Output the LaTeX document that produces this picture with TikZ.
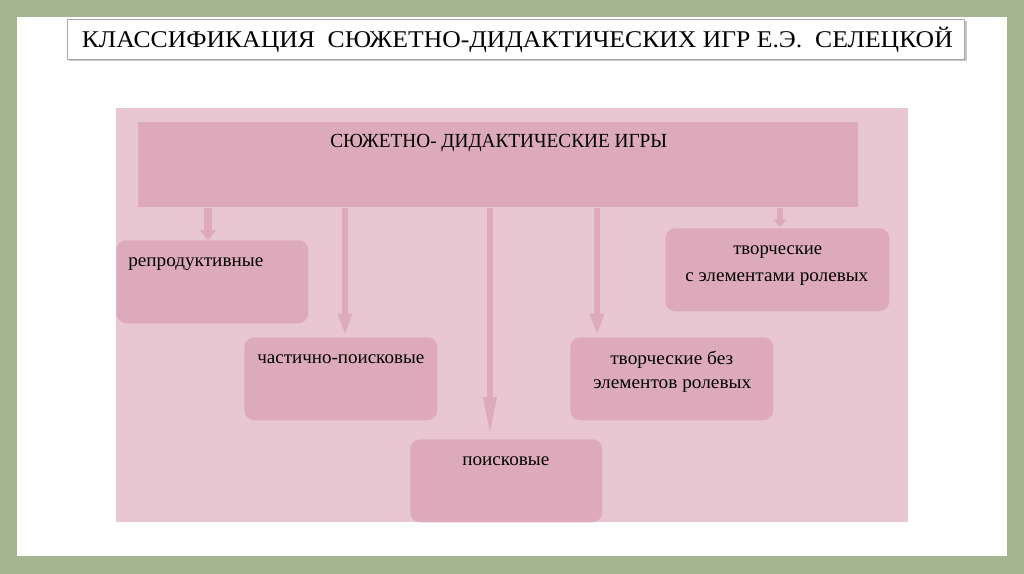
\documentclass[tikz,border=0pt]{standalone}
\usepackage{fontspec}
\setmainfont{Liberation Serif}
\usetikzlibrary{arrows.meta}
\definecolor{frame}{RGB}{164,181,145}
\definecolor{bgpink}{RGB}{232,199,211}
\definecolor{boxpink}{RGB}{220,170,187}
\newcommand{\fitw}[2]{\resizebox{#1}{\height}{#2}}
\begin{document}
\begin{tikzpicture}[x=0.75pt,y=-0.75pt,
  lbl/.style={inner sep=0pt, anchor=base west, font=\fontsize{14}{16}\selectfont},
  card/.style={fill=boxpink, rounded corners=7.5pt, inner sep=0pt, anchor=north west, minimum height=62.25pt},
  arr/.style={draw=boxpink, line width=4.5pt}]
% frame
\fill[frame] (0,0) rectangle (1024,574);
\fill[white] (17,17) rectangle (1007,556);
\useasboundingbox (0,0) rectangle (1024,574);
% title
\fill[gray!45] (69,21) rectangle (966.5,61);
\node[draw=gray!70, fill=white, line width=0.9pt, minimum width=672.75pt, minimum height=30pt, anchor=north west, inner sep=0pt] (titlebox) at (67,19) {};
\node[anchor=base west, inner sep=0pt, font=\fontsize{18}{20}\selectfont] (title) at (81.5,47.5) {\fitw{653.25pt}{КЛАССИФИКАЦИЯ\ \ СЮЖЕТНО-ДИДАКТИЧЕСКИХ ИГР Е.Э.\ \ СЕЛЕЦКОЙ}};
% pink panel
\fill[bgpink] (116,108) rectangle (908,522);
% header
\node[fill=boxpink, anchor=north west, minimum width=540pt, minimum height=63.75pt, inner sep=0pt] (header) at (138,122) {};
\node[anchor=base west, inner sep=0pt, font=\fontsize{15}{18}\selectfont] (htext) at (330,147) {\fitw{252.75pt}{СЮЖЕТНО- ДИДАКТИЧЕСКИЕ ИГРЫ}};
% boxes
\node[card, minimum width=144pt] (repr) at (116,240) {};
\node[card, minimum width=144.75pt] (chast) at (244,337) {};
\node[card, minimum width=144pt] (poisk) at (410,439) {};
\node[card, minimum width=152.25pt] (tvbez) at (570,337) {};
\node[card, minimum width=168pt] (tvs) at (665,228) {};
% labels
\node[lbl] (l1) at (128,266) {\fitw{101.25pt}{репродуктивные}};
\node[lbl] (l2) at (257,363) {\fitw{125.25pt}{частично-поисковые}};
\node[lbl] (l3) at (462,465) {\fitw{65.25pt}{поисковые}};
\node[lbl] (l4a) at (610,364) {\fitw{92.25pt}{творческие без}};
\node[lbl] (l4b) at (593,388) {\fitw{118.5pt}{элементов ролевых}};
\node[lbl] (l5a) at (733,254) {\fitw{66.75pt}{творческие}};
\node[lbl] (l5b) at (685,281) {\fitw{137.25pt}{с элементами ролевых}};
% arrow tips
\coordinate (t1) at (208,240);
\coordinate (t2) at (345,335);
\coordinate (t3) at (490,437);
\coordinate (t4) at (597,335);
\coordinate (t5) at (780,227);
\draw[arr, line width=6pt, -{Triangle[length=7.5pt,width=12pt]}] (header.south -| t1) -- (t1);
\draw[arr, -{Triangle[length=16pt,width=10pt]}] (header.south -| t2) -- (t2);
\draw[arr, -{Triangle[length=30pt,width=9pt]}] (header.south -| t3) -- (t3);
\draw[arr, -{Triangle[length=16pt,width=10pt]}] (header.south -| t4) -- (t4);
\draw[arr, -{Triangle[length=5.5pt,width=10pt]}] (header.south -| t5) -- (t5);
\end{tikzpicture}
\end{document}
